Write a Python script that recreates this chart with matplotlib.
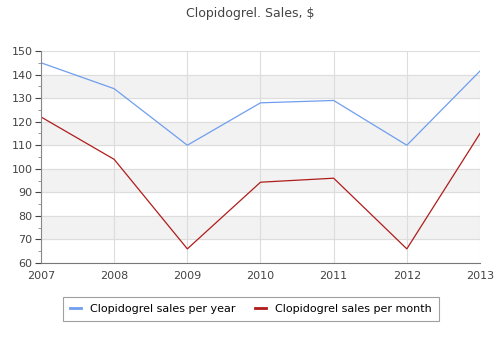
import matplotlib
matplotlib.use('Agg')
import matplotlib.pyplot as plt
from matplotlib.ticker import MultipleLocator

years = [2007, 2008, 2009, 2010, 2011, 2012, 2013]
per_year = [145, 134, 110, 128, 129, 110, 141.5]
per_month = [122, 104, 66, 94.3, 96, 66, 115]

fig = plt.figure(figsize=(5, 3.5), dpi=100)
ax = fig.add_axes([41 / 500, 1 - 263 / 350, 439 / 500, 212 / 350])

# alternating bands
for lo in range(70, 150, 20):
    ax.axhspan(lo, lo + 10, color='#f2f2f2', zorder=0)

ax.plot(years, per_year, color='#6f9eee', lw=0.9, label='Clopidogrel sales per year')
ax.plot(years, per_month, color='#b01c1c', lw=0.9, label='Clopidogrel sales per month')

ax.set_xlim(2007, 2013)
ax.set_ylim(60, 150)
ax.set_xticks(years)
ax.yaxis.set_major_locator(MultipleLocator(10))
ax.yaxis.set_minor_locator(MultipleLocator(5))
ax.grid(True, which='major', color='#dddddd', lw=0.8)
ax.set_axisbelow(True)

for s in ['top', 'right']:
    ax.spines[s].set_visible(False)
ax.spines['left'].set_color('#888888')
ax.spines['bottom'].set_color('#777777')
ax.tick_params(axis='both', labelsize=8, colors='#444444', length=4, width=0.8)
ax.tick_params(axis='x', length=0, pad=6)
ax.tick_params(axis='y', which='minor', length=2.5, color='#888888')
ax.tick_params(axis='y', pad=2)

fig.text(0.5, 1 - 13 / 350, 'Clopidogrel. Sales, $', ha='center', va='center',
         fontsize=9, color='#444444')

leg = fig.legend(loc='center', bbox_to_anchor=(251 / 500, 1 - 309 / 350), ncol=2,
                 fontsize=8, frameon=True, fancybox=False, edgecolor='#888888',
                 handlelength=1.0, columnspacing=1.8, borderpad=0.6)
for h in leg.get_lines():
    h.set_linewidth(2)
leg.get_frame().set_linewidth(0.8)

fig.savefig('out.png', dpi=100)
